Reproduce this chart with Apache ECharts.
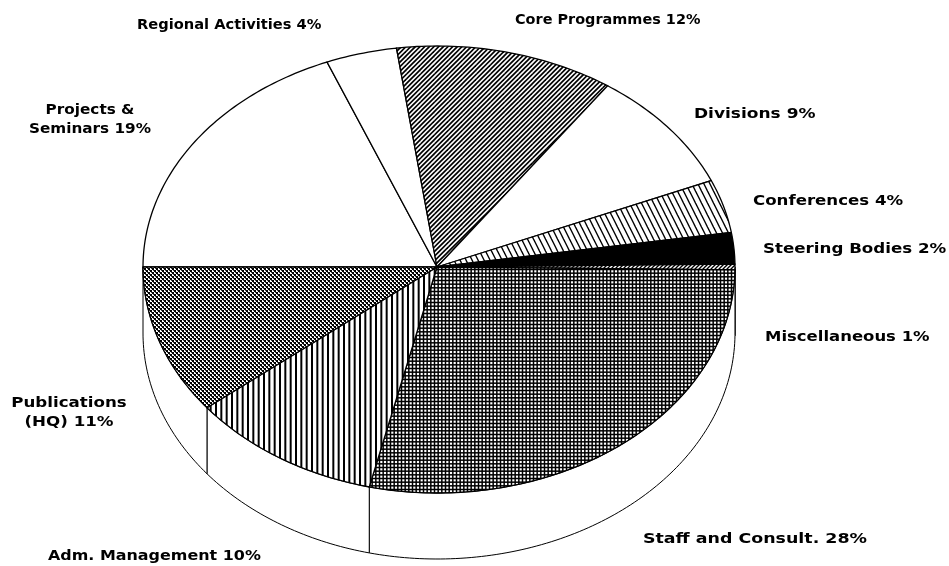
<!DOCTYPE html>
<html><head><meta charset="utf-8">
<style>html,body{margin:0;padding:0;background:#fff}#c{width:949px;height:566px}</style>
<script src="https://cdn.jsdelivr.net/npm/echarts@6/dist/echarts.min.js"></script>
</head><body><div id="c"></div>
<script>
// Data, clockwise from the left edge of the pie
const categories = ['Projects &\nSeminars','Regional Activities','Core Programmes','Divisions','Conferences','Steering Bodies','Miscellaneous','Staff and Consult.','Adm. Management','Publications\n(HQ)'];
// Percentages as printed on the labels
const printedShares = [19,4,12,9,4,2,1,28,10,11];
// Slice sizes
const drawnShares = [18.9,3.9,11.9,8.9,3.9,2.3,0.4,28.5,10.6,10.7];

// Presentation
const fills = ['white','white','core','white','conf','black','misc','grid','vert','check'];
const labelPlace = [
  {x:90,y:120,align:'center',sx:1.13},{x:137,y:25,sx:1.085},{x:515,y:20,sx:1.07},{x:694,y:114,sx:1.26},{x:753,y:201,sx:1.23},
  {x:763,y:249,sx:1.235},{x:765,y:337,sx:1.22},{x:643,y:539,sx:1.29},{x:48,y:556,sx:1.18},{x:69,y:413,align:'center',sx:1.235}
];
const geo = {cx:437,cy:267,rxL:294,rxR:298,ryT:221,ryB:226,depth:66,start:180};

function tile(w,h,draw){
  const c=document.createElement('canvas');c.width=w;c.height=h;
  const g=c.getContext('2d');g.fillStyle='#fff';g.fillRect(0,0,w,h);
  g.strokeStyle='#000';g.fillStyle='#000';draw(g,w,h);
  return {image:c,repeat:'repeat'};
}
function lines(g,pts,lw){g.lineWidth=lw;pts.forEach(p=>{g.beginPath();g.moveTo(p[0],p[1]);g.lineTo(p[2],p[3]);g.stroke();});}
const patterns = {
  white:'#fff',
  black:'#000',
  core:tile(14,14,(g)=>{const p=[];for(let i=-3;i<=6;i++){const o=i*14/3;p.push([o-14,14+14,o+28,-14]);}lines(g,p,1.7);}),
  conf:tile(6,12,(g)=>{lines(g,[[-6,-12,12,24],[-12,-12,6,24],[0,-12,18,24]],1.4);}),
  misc:tile(4,4,(g)=>{lines(g,[[-4,8,8,-4],[0,8,12,-4],[-8,8,4,-4]],1.3);}),
  grid:tile(11,11,(g)=>{const p=[];for(let i=0;i<3;i++){const o=(i+.5)*11/3;p.push([o,0,o,11],[0,o,11,o]);}lines(g,p,1.5);}),
  vert:tile(16,16,(g)=>{const p=[];for(let i=0;i<3;i++){const o=(i+.5)*16/3;p.push([o,0,o,16]);}lines(g,p,2);}),
  check:tile(4,4,(g)=>{g.fillRect(0,0,2,2);g.fillRect(2,2,2,2);g.fillStyle='#444';g.fillRect(1,2,1,1);g.fillRect(3,0,1,1);})
};

const starts=[];drawnShares.reduce((a,v,i)=>{starts[i]=a;return a+v;},0);
const total=drawnShares.reduce((a,b)=>a+b,0);
function pt(t,dy){
  const r=t*Math.PI/180,c=Math.cos(r),s=Math.sin(r);
  return [geo.cx+(c>0?geo.rxR:geo.rxL)*c, geo.cy+(dy||0)-(s>0?geo.ryT:geo.ryB)*s];
}
function arc(a,b,dy){
  const n=Math.max(2,Math.ceil(Math.abs(b-a))),o=[];
  for(let i=0;i<=n;i++)o.push(pt(a+(b-a)*i/n,dy));
  return o;
}
function angleOf(p){return geo.start-p/total*360;}

function renderItem(params,api){
  const i=params.dataIndex,v=api.value(0);
  const a=angleOf(starts[i]),b=angleOf(starts[i]+v);
  const kids=[];
  const wa=Math.min(a,0),wb=b;
  if(wb<wa){
    kids.push({type:'polygon',shape:{points:arc(wa,wb,0).concat(arc(wb,wa,geo.depth))},
      style:{fill:'#fff',stroke:'#000',lineWidth:1},z2:1});
  }
  kids.push({type:'polygon',shape:{points:[[geo.cx,geo.cy]].concat(arc(a,b,0))},
    style:{fill:patterns[fills[i]],stroke:'#000',lineWidth:1.3},z2:2});
  const lp=labelPlace[i];
  kids.push({type:'text',x:lp.x,y:lp.y,scaleX:lp.sx,z2:3,
    style:{text:categories[i]+' '+api.value(1)+'%',fill:'#000',font:'bold 13.5px "DejaVu Sans"',
      align:lp.align||'left',verticalAlign:'middle',lineHeight:19}});
  return {type:'group',children:kids};
}
const chart=echarts.init(document.getElementById('c'),null,{renderer:'canvas'});
chart.setOption({
  animation:false,
  backgroundColor:'#fff',
  series:[{type:'custom',coordinateSystem:'none',renderItem,silent:true,
    data:drawnShares.map((v,i)=>({name:categories[i],value:[v,printedShares[i]]}))}]
});
</script></body></html>
